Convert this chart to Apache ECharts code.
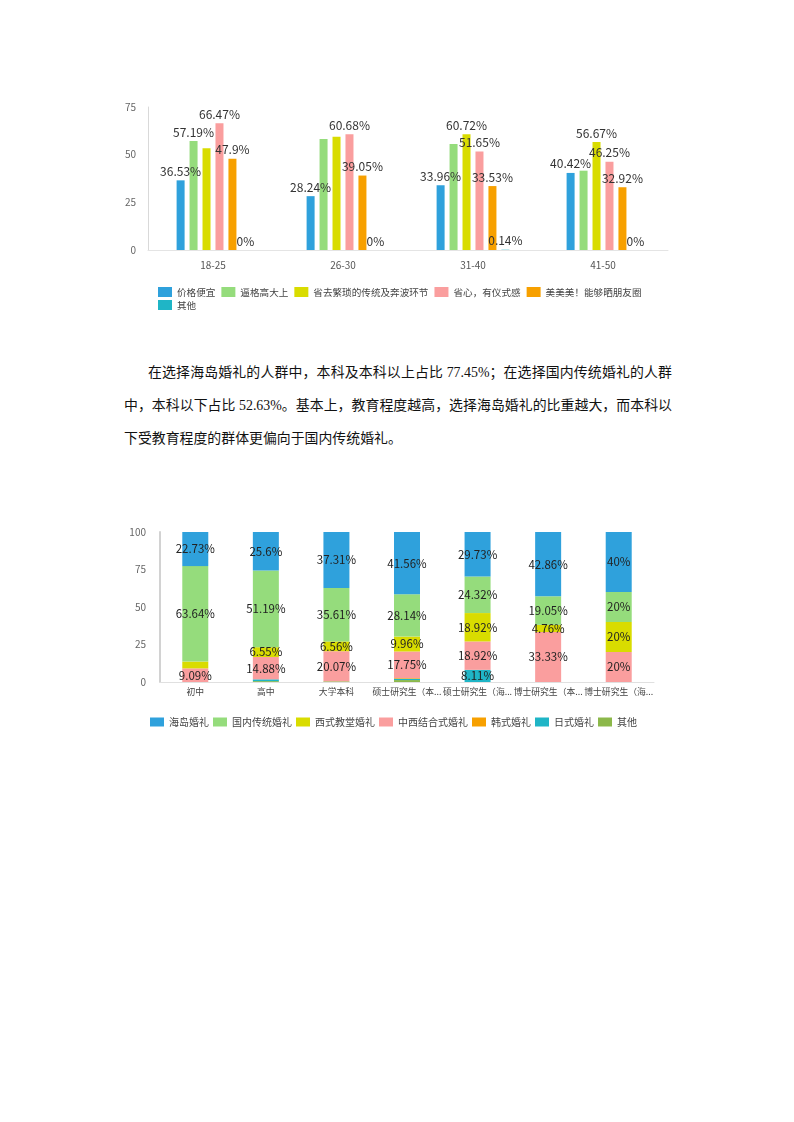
<!DOCTYPE html>
<html>
<head>
<meta charset="utf-8">
<script src="https://cdn.jsdelivr.net/npm/echarts@6/dist/echarts.min.js"></script>
<style>
  html, body { margin: 0; padding: 0; background: #fff; }
  body { width: 794px; height: 1122px; position: relative; overflow: hidden; }
  .chart { position: absolute; left: 0; width: 794px; }
  .para { position: absolute; left: 124px; width: 548px; font-family: "Liberation Serif", "Noto Sans CJK SC", serif; font-size: 13.9px; color: #111; }
  .para div { height: 33px; line-height: 33px; white-space: nowrap; }
  .para .just { text-align: justify; text-align-last: justify; }
</style>
</head>
<body>
<div id="chart1" class="chart" style="top:0;height:320px"></div>
<div class="para" style="top:356px">
  <div class="just" style="padding-left:24px">在选择海岛婚礼的人群中，本科及本科以上占比 77.45%；在选择国内传统婚礼的人群</div>
  <div class="just">中，本科以下占比 52.63%。基本上，教育程度越高，选择海岛婚礼的比重越大，而本科以</div>
  <div>下受教育程度的群体更偏向于国内传统婚礼。</div>
</div>
<div id="chart2" class="chart" style="top:480px;height:260px"></div>
<script>
// 图一：年龄段与选择原因
const ageGroups = ['18-25', '26-30', '31-40', '41-50']
const reasonNames = ['价格便宜', '逼格高大上', '省去繁琐的传统及奔波环节', '省心，有仪式感', '美美美！能够晒朋友圈', '其他']
const cheap = [36.53, 28.24, 33.96, 40.42]
const classy = [57.19, 58.2, 55.6, 41.6]
const simpler = [53.3, 59.4, 60.72, 56.67]
const ritual = [66.47, 60.68, 51.65, 46.25]
const pretty = [47.9, 39.05, 33.53, 32.92]
const otherReason = [0, 0, 0.14, 0]
const reasonColors = ['#2fa1dc', '#95dc7c', '#d9dc00', '#fa9e9e', '#f7a000', '#1fb5c6']
// 原图里被遮挡而没显示的标签（按系列列出年龄段下标）
const hiddenLabels = [[], [1, 2, 3], [0, 1], [], [], []]

// 图二：学历与婚礼类型（百分比堆叠）
const eduLevels = ['初中', '高中', '大学本科', '硕士研究生（本...', '硕士研究生（海...', '博士研究生（本...', '博士研究生（海...']
const typeNames = ['海岛婚礼', '国内传统婚礼', '西式教堂婚礼', '中西结合式婚礼', '韩式婚礼', '日式婚礼', '其他']
const island = [22.73, 25.6, 37.31, 41.56, 29.73, 42.86, 40]
const domestic = [63.64, 51.19, 35.61, 28.14, 24.32, 19.05, 20]
const church = [4.54, 6.55, 6.56, 9.96, 18.92, 4.76, 20]
const mixed = [9.09, 14.88, 20.07, 17.75, 18.92, 33.33, 20]
const korean = [0, 0, 0, 0.43, 0, 0, 0]
const japanese = [0, 1.19, 0, 0.86, 8.11, 0, 0]
const otherType = [0, 0.59, 0.45, 1.3, 0, 0, 0]
const typeColors = ['#2fa1dc', '#95dc7c', '#d9dc00', '#fa9e9e', '#f7a000', '#1fb5c6', '#8cb84a']

const font = '"Noto Sans CJK SC", sans-serif'

const chart1 = echarts.init(document.getElementById('chart1'))
const reasonData = [cheap, classy, simpler, ritual, pretty, otherReason]
chart1.setOption({
  animation: false,
  textStyle: { fontFamily: font },
  color: reasonColors,
  legend: [
    {
      data: reasonNames.slice(0, 5),
      left: 153, top: 282,
      itemWidth: 14, itemHeight: 10, itemGap: 6,
      icon: 'rect',
      textStyle: { fontSize: 9.6, color: '#444' }
    },
    {
      data: reasonNames.slice(5),
      left: 153, top: 295,
      itemWidth: 14, itemHeight: 10,
      icon: 'rect',
      textStyle: { fontSize: 9.6, color: '#444' }
    }
  ],
  grid: { left: 148, top: 107, width: 520, height: 143 },
  xAxis: {
    type: 'category',
    data: ageGroups,
    axisLine: { lineStyle: { color: '#e4e4e4' } },
    axisTick: { length: 6, lineStyle: { color: '#d6d6d6' } },
    axisLabel: { fontSize: 10, color: '#555', margin: 10 }
  },
  yAxis: {
    type: 'value',
    min: 0, max: 75, interval: 25,
    axisLine: { show: true, lineStyle: { color: '#d9d9d9' } },
    splitLine: { show: false },
    axisLabel: { fontSize: 10, color: '#666', margin: 12 }
  },
  series: reasonNames.map((name, i) => ({
    name,
    type: 'bar',
    data: reasonData[i],
    barWidth: 8,
    barGap: '62%',
    label: {
      show: true,
      position: 'top',
      distance: 3,
      fontSize: 12,
      color: '#333',
      formatter: p => (hiddenLabels[p.seriesIndex].includes(p.dataIndex) ? '' : p.value + '%')
    }
  }))
})

const chart2 = echarts.init(document.getElementById('chart2'))
const typeData = [island, domestic, church, mixed, korean, japanese, otherType]
// 堆叠时先画的在底部，所以倒序放入
const stackOrder = [6, 5, 4, 3, 2, 1, 0]
chart2.setOption({
  animation: false,
  textStyle: { fontFamily: font },
  legend: {
    data: typeNames,
    left: 145, top: 232,
    itemWidth: 14, itemHeight: 9, itemGap: 4,
    icon: 'rect',
    textStyle: { fontSize: 10, color: '#444' }
  },
  grid: { left: 160, top: 52, width: 494, height: 150 },
  xAxis: {
    type: 'category',
    data: eduLevels,
    axisLine: { lineStyle: { color: '#e0e0e0' } },
    axisTick: { length: 10, lineStyle: { color: '#d6d6d6' } },
    axisLabel: { interval: 0, fontSize: 8.8, color: '#444', margin: 5 }
  },
  yAxis: {
    type: 'value',
    min: 0, max: 100, interval: 25,
    axisLine: { show: true, lineStyle: { color: '#d2d2d2', width: 2 } },
    splitLine: { show: false },
    axisLabel: { fontSize: 10, color: '#666', margin: 14 }
  },
  series: stackOrder.map(i => ({
    name: typeNames[i],
    type: 'bar',
    stack: 'edu',
    data: typeData[i],
    barWidth: 26,
    itemStyle: { color: typeColors[i] },
    label: {
      show: true,
      position: 'inside',
      fontSize: 11.5,
      color: '#222',
      formatter: p => (p.value >= 4 ? p.value + '%' : '')
    },
    labelLayout: { hideOverlap: true }
  }))
})
</script>
</body>
</html>
